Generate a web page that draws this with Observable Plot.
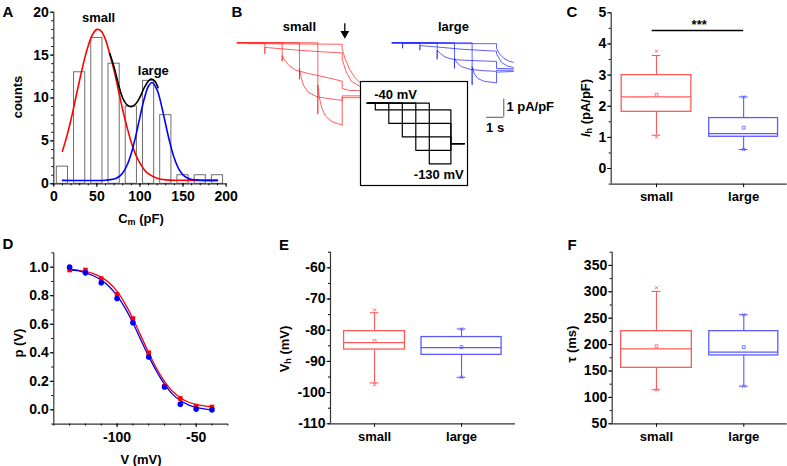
<!DOCTYPE html>
<html><head><meta charset="utf-8">
<script src="https://cdn.jsdelivr.net/npm/d3@7"></script>
<script src="https://cdn.jsdelivr.net/npm/@observablehq/plot@0.6"></script>
<style>
body{margin:0;background:#fff;}
#fig{position:relative;width:787px;height:466px;background:#fff;overflow:hidden;font-family:"Liberation Sans",Arial,sans-serif;font-weight:bold;color:#000;}
.lbl{position:absolute;white-space:nowrap;transform:translate(-50%,-50%);font-size:13px;line-height:1;}
.rot{transform:translate(-50%,-50%) rotate(-90deg);}
.pl{position:absolute;font-size:15px;}
sub{font-size:9px;vertical-align:-2px;}
</style></head>
<body><div id="fig"></div>
<script>
// ---------------- DATA ----------------
// Panel A: histogram of membrane capacitance
const binCenters = [10, 30, 50, 70, 90, 110, 130, 150, 170, 190];
const binCounts  = [2, 13, 17, 14, 9, 12, 8, 1, 1, 1];
const fitX      = [10,15,20,25,30,35,40,45,50,55,60,65,70,75,80,85,90,95,100,105,110,120,130,145,190];
const fitSmallY = [3.8,5.5,7.5,9.8,12.1,14.3,16.1,17.4,18.0,17.8,16.8,15.1,13.2,10.9,8.6,6.6,4.8,3.4,2.4,1.65,1.15,0.65,0.46,0.41,0.4];
const fitLargeX = [10,60,70,75,80,85,90,95,100,105,110,114,120,125,130,135,140,145,150,155,160,170,190];
const fitLargeY = [0.4,0.42,0.55,0.79,1.27,2.16,3.57,5.51,7.77,9.92,11.4,11.8,10.92,9.11,6.85,4.68,2.94,1.74,1.04,0.67,0.5,0.42,0.4];
const fitSumX = [65,70,75,80,85,90,95,100,105,110,113,117,121];
const fitSumY = [15.2,13.6,11.6,10.0,9.2,9.0,9.3,10.1,11.2,12.0,12.2,12.0,11.2];

// Panel B: current traces (time s, current pA/pF)
const smallTraces = [
  [[0,0],[0.6,0],[0.6,-0.05],[3,-0.06],[6.07,-0.08],[6.07,-0.35],[6.25,-0.9],[6.5,-1.45],[6.8,-1.9],[7.13,-2.2]],
  [[0,0],[1.6,0],[1.6,-0.6],[1.6,-0.25],[2.2,-0.3],[3.5,-0.4],[5,-0.5],[6.07,-0.55],[6.07,-0.9],[6.3,-1.6],[6.6,-2.1],[7.13,-2.4]],
  [[0,0],[2.6,0],[2.6,-1.0],[2.6,-0.7],[2.75,-0.95],[3.0,-1.25],[3.4,-1.5],[4.2,-1.7],[5.2,-1.9],[6.07,-2.1],[6.07,-2.5],[6.5,-2.6],[7.13,-2.62]],
  [[0,0],[3.6,0],[3.6,-2.0],[3.6,-1.4],[3.7,-1.9],[3.85,-2.35],[4.1,-2.7],[4.6,-2.95],[5.3,-3.05],[6.07,-3.15],[6.07,-2.9],[7.13,-2.9]],
  [[0,0],[4.66,0],[4.66,-3.9],[4.66,-2.3],[4.75,-3.0],[4.9,-3.6],[5.1,-4.0],[5.45,-4.3],[6.07,-4.5],[6.07,-3.0],[7.13,-3.0]]
];
const largeTraces = [
  [[0,0],[0.6,0],[0.6,-0.3],[0.6,-0.03],[3,-0.04],[6.03,-0.05],[6.03,-0.3],[6.2,-0.6],[6.45,-0.85],[6.75,-1.0],[7.0,-1.07]],
  [[0,0],[1.6,0],[1.6,-0.4],[1.6,-0.15],[2.5,-0.22],[4,-0.35],[6.03,-0.46],[6.03,-0.6],[6.3,-1.05],[6.6,-1.25],[7.0,-1.35]],
  [[0,0],[2.6,0],[2.6,-0.9],[2.6,-0.4],[2.8,-0.6],[3.1,-0.8],[3.6,-0.92],[4.6,-0.97],[6.03,-1.02],[6.03,-1.4],[7.0,-1.42]],
  [[0,0],[3.6,0],[3.6,-1.4],[3.6,-0.85],[3.75,-1.1],[4.0,-1.3],[4.5,-1.45],[5.2,-1.52],[6.03,-1.56],[6.03,-1.5],[7.0,-1.5]],
  [[0,0],[4.62,0],[4.62,-2.3],[4.62,-1.3],[4.75,-1.7],[4.95,-1.95],[5.3,-2.1],[6.03,-2.19],[6.03,-1.6],[7.0,-1.57]]
];
// voltage protocol (inset)
const holdV = -40;
const stepStarts = [0.6, 1.6, 2.6, 3.6, 4.6];
const stepLevels = [-50, -70, -90, -110, -130];
const stepEnd = 6.2, tailV = -100, tailEnd = 7.2;

// Panel C/E/F: box statistics [q1, median, q3, mean, whiskerLow, whiskerHigh, min, max]
const groups = ["small", "large"];
const statNames = ["q1","median","q3","mean","wlo","whi","min","max"];
const ihSmall  = [1.82, 2.30, 3.00, 2.37, 1.07, 3.63, 1.01, 3.77];
const ihLarge  = [1.02, 1.12, 1.62, 1.31, 0.61, 2.30, 0.61, 2.30];
const vhSmall  = [-86.2, -84.0, -80.3, -83.5, -96.9, -74.4, -97.4, -73.5];
const vhLarge  = [-87.9, -85.6, -82.2, -85.4, -95.1, -79.6, -95.1, -79.6];
const tauSmall = [156, 192, 225.5, 197, 114.5, 300.7, 114, 307.7];
const tauLarge = [179.5, 185.8, 225.5, 195.3, 121.3, 256.6, 121.3, 256.6];

// Panel D: activation curves
const dV     = [-130,-120,-110,-100,-90,-80,-70,-60,-50,-40];
const pSmall = [0.98,0.98,0.92,0.81,0.64,0.40,0.165,0.08,0.025,0.02];
const pLarge = [1.0,0.96,0.89,0.78,0.61,0.37,0.16,0.04,0.005,0.0];
const dFitV     = [-130,-125,-120,-115,-110,-105,-100,-95,-90,-85,-80,-75,-70,-65,-60,-55,-50,-45,-40];
const dFitSmall = [0.985,0.98,0.97,0.955,0.93,0.89,0.83,0.745,0.64,0.52,0.40,0.29,0.20,0.13,0.085,0.055,0.038,0.028,0.022];
const dFitLarge = [0.98,0.975,0.96,0.94,0.91,0.865,0.80,0.715,0.61,0.49,0.375,0.27,0.18,0.11,0.065,0.035,0.017,0.006,0.0];

// ---------------- STYLE ----------------
const FONT = '"Liberation Sans", Arial, Helvetica, sans-serif';
const RED = "#ff0000", BLUE = "#0000ff";
const BOXRED = "#ff5a5a", BOXBLUE = "#5a5aff";
const AX = "#333";
const style = {fontFamily: FONT, fontSize: "14px", fontWeight: "bold", color: "black", background: "transparent", overflow: "visible"};
const fig = document.getElementById("fig");
function place(el, left, top) { el.style.position = "absolute"; el.style.left = left + "px"; el.style.top = top + "px"; fig.appendChild(el); }
function label(html, x, y, rot, cls) {
  const d = document.createElement("div");
  d.className = cls || ("lbl" + (rot ? " rot" : ""));
  d.innerHTML = html;
  d.style.left = x + "px"; d.style.top = y + "px";
  fig.appendChild(d);
}
const pairs = (xs, ys) => xs.map((x, i) => ({x, y: ys[i]}));
const hyph = d => String(d);
// margins so that the plot frame lands on given page pixels
function frameMargins(L, T, W, H, x1, x2, yTop, yBottom) {
  return {marginLeft: x1 - L, marginRight: L + W - x2, marginTop: yTop - T, marginBottom: T + H - yBottom};
}

// ---------------- PANEL A ----------------
{
  const L = 0, T = 0, W = 232, H = 228;
  const bins = binCenters.map((c, i) => ({c, n: binCounts[i]}));
  const hw = 6.5;
  const p = Plot.plot({
    width: W, height: H, style,
    ...frameMargins(L, T, W, H, 53.3, 225.6, 11.7, 183.3),
    x: {domain: [0, 200]},
    y: {domain: [0, 20]},
    marks: [
      Plot.rect(bins, {x1: d => d.c - hw, x2: d => d.c + hw, y1: 0, y2: "n", fill: "white", stroke: "#6e6e6e", strokeWidth: 1}),
      Plot.line(pairs(fitX, fitSmallY), {x: "x", y: "y", stroke: RED, strokeWidth: 1.6, curve: "catmull-rom"}),
      Plot.line(pairs(fitSumX, fitSumY), {x: "x", y: "y", stroke: "black", strokeWidth: 1.6, curve: "catmull-rom"}),
      Plot.line(pairs(fitLargeX, fitLargeY), {x: "x", y: "y", stroke: BLUE, strokeWidth: 1.6, curve: "catmull-rom"}),
      Plot.ruleX([0], {y1: 0, y2: 20, stroke: AX, strokeWidth: 1.2}),
      Plot.ruleY([0], {x1: 0, x2: 200, stroke: AX, strokeWidth: 1.2}),
      Plot.axisY({ticks: [0,5,10,15,20], tickSize: 3.5, tickPadding: 1.5, label: null}),
      Plot.axisY({ticks: d3.range(0, 21, 1), tickSize: 2, tickFormat: () => "", label: null}),
      Plot.axisX({ticks: [0,50,100,150,200], tickSize: 3.5, tickPadding: 3.5, label: null}),
      Plot.axisX({ticks: d3.range(0, 201, 10), tickSize: 2, tickFormat: () => "", label: null}),
      Plot.text([{x: 52, y: 19.3, t: "small"}, {x: 115.5, y: 13.2, t: "large"}], {x: "x", y: "y", text: "t", fontSize: 13})
    ]
  });
  place(p, L, T);
  label("counts", 17, 97, true);
  label("C<sub>m</sub> (pF)", 141, 219);
}

// ---------------- PANEL B ----------------
{
  const L = 230, T = 0;
  const x0 = 236.7, pxs = 17.3, y0 = 42.3, pxa = 18.3;
  const largeOffset = 155 / pxs;
  const marks = [];
  smallTraces.forEach(tr => marks.push(Plot.line(tr, {x: d => d[0], y: d => d[1], stroke: "#ff2020", strokeOpacity: 0.85, strokeWidth: 0.85})));
  largeTraces.forEach(tr => marks.push(Plot.line(tr, {x: d => d[0] + largeOffset, y: d => d[1], stroke: "#2020ff", strokeOpacity: 0.85, strokeWidth: 0.85})));
  // arrow marking the end of the steps
  marks.push(Plot.ruleX([6.22], {y1: 1.04, y2: 0.5, stroke: "black", strokeWidth: 1.3}));
  marks.push(Plot.dot([6.22], {x: d => d, y: 0.5, symbol: "triangle", rotate: 180, r: 3.3, fill: "black", stroke: "none"}));
  // scale bar: 1 s, 1 pA/pF
  const sbT = 14.41, sbI = -4.07;
  marks.push(Plot.ruleY([sbI], {x1: sbT, x2: sbT + 1, stroke: "#555", strokeWidth: 1}));
  marks.push(Plot.ruleX([sbT + 1], {y1: sbI, y2: sbI + 1, stroke: "#555", strokeWidth: 1}));
  marks.push(Plot.text(["1 pA/pF"], {x: sbT + 1.15, y: sbI + 0.58, text: d => d, textAnchor: "start", fontSize: 13}));
  marks.push(Plot.text(["1 s"], {x: sbT + 0.5, y: sbI - 0.55, text: d => d, fontSize: 13}));
  marks.push(Plot.text([{t: 3.6, s: "small"}, {t: 3.54 + largeOffset, s: "large"}], {x: "t", y: 0.85, text: "s", fontSize: 13}));
  const p = Plot.plot({
    width: 330, height: 200, style, margin: 0,
    x: {domain: [0, 10], range: [x0 - L, x0 - L + 10 * pxs], axis: null},
    y: {domain: [0, -4], range: [y0 - T, y0 - T + 4 * pxa], axis: null},
    marks
  });
  place(p, L, T);

  // inset: voltage protocol
  const IL = 360, IT = 81, IW = 107, IH = 104;
  const protocol = stepStarts.map((s, i) => [[0, holdV], [s, holdV], [s, stepLevels[i]], [stepEnd, stepLevels[i]], [stepEnd, tailV], [tailEnd, tailV]]);
  const im = [Plot.frame({stroke: "black", strokeWidth: 1.2})];
  protocol.forEach(pr => im.push(Plot.line(pr, {x: d => d[0], y: d => d[1], stroke: "black", strokeWidth: 1.2})));
  im.push(Plot.text(["-40 mV"], {x: 2.1, y: -27, text: d => d, fontSize: 13}));
  im.push(Plot.text(["-130 mV"], {x: 5.3, y: -146, text: d => d, fontSize: 13}));
  const inset = Plot.plot({
    width: IW, height: IH, style: {...style, background: "white"}, margin: 0,
    x: {domain: [0, 1], range: [366.7 - IL, 366.7 - IL + 13.5], axis: null},
    y: {domain: [-40, -130], range: [102.7 - IT, 163.3 - IT], axis: null},
    marks: im
  });
  place(inset, IL, IT);
}

// ---------------- BOX PANELS ----------------
function boxMarks(vals, xc, hw, color) {
  const s = {x: xc};
  statNames.forEach((k, i) => s[k] = vals[i]);
  const row = [s], cap = 0.05, sw = 1.1;
  return [
    Plot.ruleX(row, {x: "x", y1: "q3", y2: "whi", stroke: color, strokeWidth: sw}),
    Plot.ruleX(row, {x: "x", y1: "wlo", y2: "q1", stroke: color, strokeWidth: sw}),
    Plot.ruleY(row, {y: "whi", x1: d => d.x - cap, x2: d => d.x + cap, stroke: color, strokeWidth: sw}),
    Plot.ruleY(row, {y: "wlo", x1: d => d.x - cap, x2: d => d.x + cap, stroke: color, strokeWidth: sw}),
    Plot.rect(row, {x1: d => d.x - hw, x2: d => d.x + hw, y1: "q1", y2: "q3", fill: "none", stroke: color, strokeWidth: 1.3}),
    Plot.ruleY(row, {y: "median", x1: d => d.x - hw, x2: d => d.x + hw, stroke: color, strokeWidth: 1.3}),
    Plot.dot(row, {x: "x", y: "mean", symbol: "square", r: 1.6, fill: "none", stroke: color, strokeWidth: 0.8}),
    Plot.dot(row, {x: "x", y: "min", symbol: "times", r: 1.6, stroke: color, strokeWidth: 0.9}),
    Plot.dot(row, {x: "x", y: "max", symbol: "times", r: 1.6, stroke: color, strokeWidth: 0.9})
  ];
}
function boxPanel(o) {
  const marks = [
    ...boxMarks(o.small, 1, o.hw[0], BOXRED),
    ...boxMarks(o.large, 2, o.hw[1], BOXBLUE),
    Plot.ruleX([o.xd[0]], {y1: o.yd[0], y2: o.yd[1], stroke: AX, strokeWidth: 1.2}),
    Plot.ruleY([o.yd[0]], {x1: o.xd[0], x2: o.xd[1], stroke: AX, strokeWidth: 1.2}),
    Plot.axisY({ticks: o.yTicks, tickSize: 3.5, tickPadding: 1.5, tickFormat: hyph, label: null}),
    Plot.axisY({ticks: o.yMinor, tickSize: 2, tickFormat: () => "", label: null}),
    Plot.axisX({ticks: [1, 2], tickSize: 3.5, tickPadding: 4, tickFormat: i => groups[i - 1], fontSize: 13, label: null}),
    ...(o.extra || [])
  ];
  const p = Plot.plot({
    width: o.W, height: o.H, style,
    ...frameMargins(o.L, o.T, o.W, o.H, o.px[0], o.px[1], o.py[1], o.py[0]),
    x: {domain: o.xd},
    y: {domain: o.yd},
    marks
  });
  place(p, o.L, o.T);
}

// Panel C
boxPanel({
  L: 560, T: 0, W: 227, H: 215,
  xd: [0.48, 2.5], px: [610.7, 786.7],
  yd: [-0.5, 5], py: [183.6, 12.3],
  yTicks: [0, 1, 2, 3, 4, 5], yMinor: d3.range(-0.5, 5.01, 0.5),
  small: ihSmall, large: ihLarge, hw: [0.4, 0.395],
  extra: [
    Plot.ruleY([4.43], {x1: 0.95, x2: 2.0, stroke: "black", strokeWidth: 1.6}),
    Plot.text(["***"], {x: 1.49, y: 4.6, text: d => d, fontSize: 13})
  ]
});
label("<i>I</i><sub>h</sub> (pA/pF)", 586, 108, true);

// Panel E
boxPanel({
  L: 295, T: 230, W: 240, H: 236,
  xd: [0.494, 2.62], px: [330, 515],
  yd: [-110, -55], py: [423.3, 251.7],
  yTicks: [-110, -100, -90, -80, -70, -60], yMinor: d3.range(-110, -54, 5),
  small: vhSmall, large: vhLarge, hw: [0.35, 0.46]
});
label("V<sub>h</sub> (mV)", 285, 349, true);

// Panel F
boxPanel({
  L: 585, T: 230, W: 202, H: 236,
  xd: [0.493, 2.497], px: [611.7, 786.7],
  yd: [50, 375], py: [423.3, 251.7],
  yTicks: [50, 100, 150, 200, 250, 300, 350], yMinor: d3.range(50, 376, 25),
  small: tauSmall, large: tauLarge, hw: [0.405, 0.395]
});
label("τ (ms)", 571, 344, true);

// ---------------- PANEL D ----------------
{
  const L = 25, T = 230, W = 215, H = 236;
  const p = Plot.plot({
    width: W, height: H, style,
    ...frameMargins(L, T, W, H, 53.3, 227.3, 252.4, 423.6),
    x: {domain: [-140, -30]},
    y: {domain: [-0.1, 1.1]},
    marks: [
      Plot.ruleX([-140], {y1: -0.1, y2: 1.1, stroke: AX, strokeWidth: 1.2}),
      Plot.ruleY([-0.1], {x1: -140, x2: -30, stroke: AX, strokeWidth: 1.2}),
      Plot.axisY({ticks: [0, 0.2, 0.4, 0.6, 0.8, 1.0], tickSize: 3.5, tickPadding: 1.5, tickFormat: d3.format(".1f"), label: null}),
      Plot.axisY({ticks: d3.range(-0.1, 1.11, 0.1), tickSize: 2, tickFormat: () => "", label: null}),
      Plot.axisX({ticks: [-100, -50], tickSize: 3.5, tickPadding: 4, tickFormat: hyph, label: null}),
      Plot.axisX({ticks: d3.range(-140, -29, 10), tickSize: 2, tickFormat: () => "", label: null}),
      Plot.line(pairs(dFitV, dFitSmall), {x: "x", y: "y", stroke: RED, strokeWidth: 1.3, curve: "catmull-rom"}),
      Plot.line(pairs(dFitV, dFitLarge), {x: "x", y: "y", stroke: BLUE, strokeWidth: 1.3, curve: "catmull-rom"}),
      Plot.dot(pairs(dV, pSmall), {x: "x", y: "y", symbol: "square", r: 2.6, fill: RED, stroke: "none"}),
      Plot.dot(pairs(dV, pLarge), {x: "x", y: "y", symbol: "circle", r: 2.8, fill: BLUE, stroke: "none"})
    ]
  });
  place(p, L, T);
  label("p (V)", 18, 343, true);
  label("V (mV)", 141, 459);
}

// panel letters
[["A", 8, 11], ["B", 237, 11], ["C", 572, 11], ["D", 8, 243], ["E", 284, 244], ["F", 572, 244]]
  .forEach(([t, x, y]) => label(t, x, y, false, "lbl pl"));
</script></body></html>
